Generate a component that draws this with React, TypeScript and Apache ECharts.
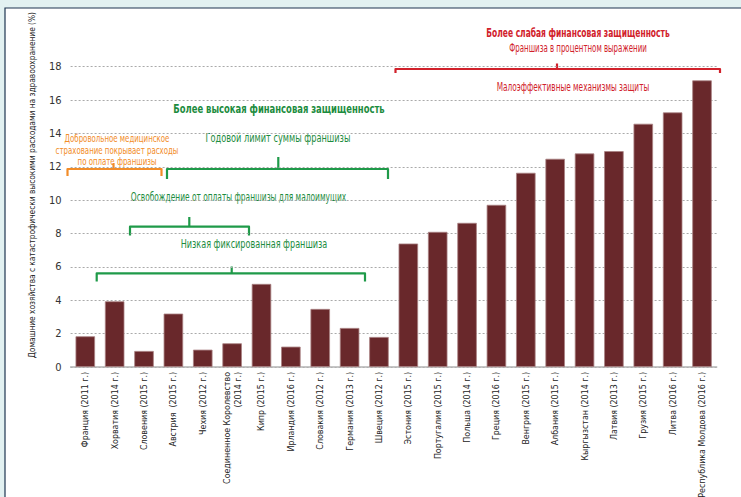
import React, { useEffect, useRef } from "react";
import * as echarts from "echarts";

const countries = [
  "Франция (2011 г.)",
  "Хорватия (2014 г.)",
  "Словения (2015 г.)",
  "Австрия  (2015 г.)",
  "Чехия (2012 г.)",
  "Соединенное Королевство\n(2014 г.)",
  "Кипр (2015 г.)",
  "Ирландия (2016 г.)",
  "Словакия (2012 г.)",
  "Германия (2013 г.)",
  "Швеция (2012 г.)",
  "Эстония (2015 г.)",
  "Португалия (2015 г.)",
  "Польша (2014 г.)",
  "Греция (2016 г.)",
  "Венгрия (2015 г.)",
  "Албания (2015 г.)",
  "Кыргызстан (2014 г.)",
  "Латвия (2013 г.)",
  "Грузия (2015 г.)",
  "Литва (2016 г.)",
  "Республика Молдова (2016 г.)",
];

const shares = [
  1.84, 3.94, 0.96, 3.2, 1.04, 1.42, 4.98, 1.22, 3.48, 2.34, 1.8,
  7.4, 8.1, 8.64, 9.72, 11.64, 12.48, 12.8, 12.94, 14.58, 15.26, 17.18,
];

const yTicks = [0, 2, 4, 6, 8, 10, 12, 14, 16, 18];

const yAxisTitle =
  "Домашние хозяйства с катастрофически высокими расходами на здравоохранение (%)";

const FONT = "'DejaVu Sans Condensed', 'DejaVu Sans', sans-serif";
const RED = "#d1212b";
const GREEN_T = "#1c8c3e";
const GREEN_L = "#1f9a49";
const ORANGE = "#f28c28";

function bracket(x1: number, x2: number, yH: number, yEnd: number, cx: number, yTop: number, color: string) {
  return [
    {
      type: "polyline",
      shape: { points: [[x1, yEnd], [x1, yH], [x2, yH], [x2, yEnd]] },
      style: { stroke: color, lineWidth: 2.2, fill: null, lineJoin: "round" },
      silent: true,
    },
    {
      type: "line",
      shape: { x1: cx, y1: yH, x2: cx, y2: yTop },
      style: { stroke: color, lineWidth: 2.2 },
      silent: true,
    },
  ];
}

function label(text: string, x: number, y: number, color: string, size: number, sx: number, bold = false) {
  return {
    type: "text",
    x,
    y,
    scaleX: sx,
    style: {
      text,
      fill: color,
      font: `${bold ? "bold " : ""}${size}px ${FONT}`,
      textAlign: "center",
      textVerticalAlign: "middle",
      lineHeight: 11.5,
    },
    silent: true,
  };
}

export default function App() {
  const ref = useRef<HTMLDivElement>(null);

  useEffect(() => {
    if (!ref.current) return;
    const chart = echarts.init(ref.current, undefined, { renderer: "svg" });
    const option: any = {
      animation: false,
      backgroundColor: "#e2f1f1",
      textStyle: { fontFamily: FONT },
      grid: {
        left: 70.6,
        right: 24.3,
        top: 66.7,
        bottom: 130,
        containLabel: false,
        outerBoundsMode: "none",
      },
      xAxis: {
        type: "category",
        data: countries,
        boundaryGap: true,
        axisLine: { show: true, lineStyle: { color: "#b3b3b3", width: 1.5 } },
        axisTick: { show: false },
        axisLabel: {
          rotate: 90,
          interval: 0,
          margin: 5,
          fontSize: 8.8,
          color: "#222",
          fontFamily: FONT,
          lineHeight: 11,
        },
      },
      yAxis: {
        type: "value",
        min: 0,
        max: 18,
        interval: 2,
        axisLine: { show: false },
        axisTick: { show: false },
        axisLabel: {
          fontSize: 11,
          color: "#333",
          margin: 9,
          fontFamily: FONT,
          formatter: (v: number) => (yTicks.includes(v) ? String(v) : ""),
        },
        splitLine: {
          show: true,
          lineStyle: { color: "#aaaaaa", type: [2, 2], width: 1 },
        },
      },
      series: [
        {
          type: "bar",
          data: shares,
          barWidth: 19.5,
          itemStyle: { color: "#69282b", borderColor: "#a98283", borderWidth: 0.8 },
        },
      ],
      graphic: [
        {
          type: "rect",
          z: -10,
          shape: { x: 5, y: 8, width: 760, height: 520 },
          style: { fill: "#ffffff", stroke: "#1f3550", lineWidth: 1.2 },
          silent: true,
        },
        {
          type: "text",
          x: 31.5,
          y: 185,
          rotation: Math.PI / 2,
          scaleX: 0.94,
          style: {
            text: yAxisTitle,
            fill: "#222",
            font: `8.8px ${FONT}`,
            textAlign: "center",
            textVerticalAlign: "middle",
          },
          silent: true,
        },
        label("Более слабая финансовая защищенность", 578, 32.5, RED, 12, 0.7, true),
        label("Франшиза в процентном выражении", 578, 48, RED, 11.5, 0.68),
        ...bracket(395.5, 720, 69, 73, 557, 63.5, RED),
        label("Малоэффективные механизмы защиты", 573, 86, RED, 12, 0.68),
        label("Более высокая финансовая защищенность", 279, 109.5, GREEN_T, 12.5, 0.75, true),
        label("Годовой лимит суммы франшизы", 278, 138.5, GREEN_T, 12, 0.76),
        label(
          "Добровольное медицинское\nстрахование покрывает расходы\nпо оплате франшизы",
          117,
          149.5,
          ORANGE,
          11,
          0.71
        ),
        ...bracket(67.5, 161.5, 169, 176, 113.5, 163, ORANGE),
        ...bracket(167, 388, 169, 179, 278.3, 157, GREEN_L),
        label("Освобождение от оплаты франшизы для малоимущих", 238.5, 196, GREEN_T, 12, 0.69),
        ...bracket(130, 249, 226.7, 235.5, 189.3, 217, GREEN_L),
        label("Низкая фиксированная франшиза", 254, 243.5, GREEN_T, 12, 0.75),
        ...bracket(96.7, 365, 273.3, 281.5, 231.7, 266.5, GREEN_L),
      ],
    };
    chart.setOption(option);
    return () => chart.dispose();
  }, []);

  return (
    <div
      ref={ref}
      style={{ position: "fixed", left: 0, top: 0, width: 741, height: 497 }}
    />
  );
}
